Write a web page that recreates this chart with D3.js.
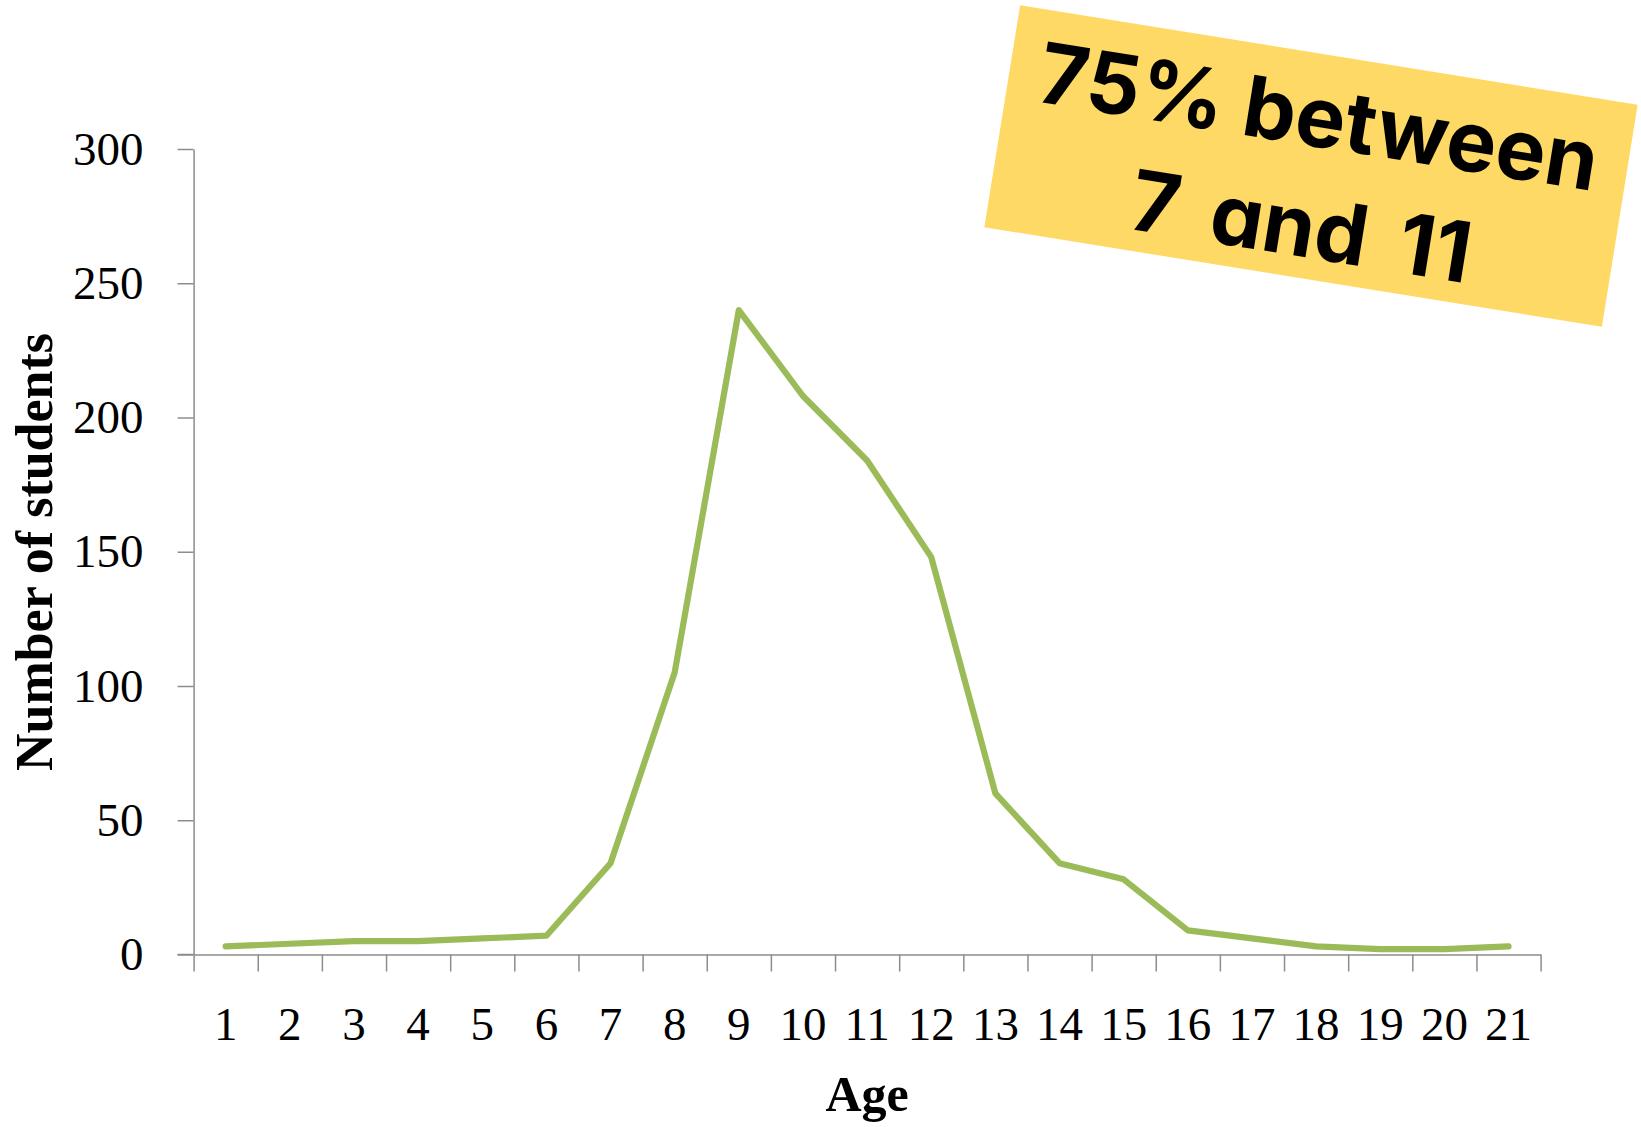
<!DOCTYPE html>
<html>
<head>
<meta charset="utf-8">
<script src="https://cdn.jsdelivr.net/npm/d3@7"></script>
<style>
  html, body { margin: 0; padding: 0; background: #ffffff; }
  svg { display: block; }
</style>
</head>
<body>
<svg id="chart" width="1641" height="1127"></svg>
<script>
// Age distribution of students
const ages = ["1","2","3","4","5","6","7","8","9","10","11","12","13","14","15","16","17","18","19","20","21"];
const students = [3, 4, 5, 5, 6, 7, 34, 105, 240, 208, 184, 148, 60, 34, 28, 9, 6, 3, 2, 2, 3];
const yTicks = [0, 50, 100, 150, 200, 250, 300];
const calloutLines = ["75% between", "7 and 11"];

const svg = d3.select("#chart");
const plot = { left: 193.6, right: 1540.6, top: 149, bottom: 954.5 };
const axisColor = "#8c8c8c";
const serif = "'Liberation Serif', 'Times New Roman', serif";

const x = d3.scaleBand().domain(ages).range([plot.left, plot.right]).padding(0);
const xEdges = d3.scaleLinear().domain([0, ages.length]).range([plot.left, plot.right]);
const y = d3.scaleLinear().domain([0, 300]).range([plot.bottom, plot.top]);

// Y axis
const yAxis = svg.append("g")
  .attr("transform", `translate(${plot.left},0)`)
  .call(d3.axisLeft(y).tickValues(yTicks).tickSize(16).tickPadding(34).tickSizeOuter(0));
yAxis.select(".domain").attr("stroke", axisColor).attr("stroke-width", 1.5);
yAxis.selectAll(".tick line").attr("stroke", axisColor).attr("stroke-width", 1.5);
yAxis.selectAll(".tick text")
  .attr("font-family", serif).attr("font-size", 47).attr("fill", "#000");

// X axis: tick marks at category boundaries
const xTickAxis = svg.append("g")
  .attr("transform", `translate(0,${plot.bottom})`)
  .call(d3.axisBottom(xEdges).tickValues(d3.range(0, ages.length + 1)).tickSize(17).tickSizeOuter(0).tickFormat(""));
xTickAxis.select(".domain").attr("stroke", axisColor).attr("stroke-width", 1.5);
xTickAxis.selectAll(".tick line").attr("stroke", axisColor).attr("stroke-width", 1.5);

// X axis: category labels centred in each band
const xLabelAxis = svg.append("g")
  .attr("transform", `translate(0,${plot.bottom})`)
  .call(d3.axisBottom(x).tickSize(0).tickPadding(52));
xLabelAxis.select(".domain").remove();
xLabelAxis.selectAll(".tick text")
  .attr("font-family", serif).attr("font-size", 47).attr("fill", "#000");

// extend the horizontal baseline to meet the y tick
svg.append("line")
  .attr("x1", plot.left - 16).attr("x2", plot.left)
  .attr("y1", y(0)).attr("y2", y(0))
  .attr("stroke", axisColor).attr("stroke-width", 1.5);

// Data line
const line = d3.line()
  .x((d, i) => x(ages[i]) + x.bandwidth() / 2)
  .y(d => y(d));
svg.append("path")
  .datum(students)
  .attr("d", line)
  .attr("fill", "none")
  .attr("stroke", "#9bbb59")
  .attr("stroke-width", 6.2)
  .attr("stroke-linejoin", "round")
  .attr("stroke-linecap", "round");

// Axis titles
svg.append("text")
  .attr("transform", `translate(52,552) rotate(-90)`)
  .attr("text-anchor", "middle")
  .attr("font-family", serif).attr("font-weight", "bold").attr("font-size", 52)
  .attr("fill", "#000")
  .text("Number of students");

svg.append("text")
  .attr("x", (plot.left + plot.right) / 2)
  .attr("y", 1111)
  .attr("text-anchor", "middle")
  .attr("font-family", serif).attr("font-weight", "bold").attr("font-size", 50)
  .attr("fill", "#000")
  .text("Age");

// Tilted callout
const callout = svg.append("g")
  .attr("transform", "translate(1311,166) rotate(9.15)");
callout.append("rect")
  .attr("x", -312.75).attr("y", -112.4)
  .attr("width", 625.5).attr("height", 224.8)
  .attr("fill", "#ffd966");
callout.selectAll("text.callout")
  .data(calloutLines)
  .join("text")
  .attr("class", "callout")
  .attr("x", 0)
  .attr("y", (d, i) => -20 + i * 111)
  .attr("text-anchor", "middle")
  .attr("font-family", "Inter, 'Open Sans', sans-serif")
  .attr("font-weight", 700)
  .attr("font-size", 84)
  .attr("word-spacing", (d, i) => i === 1 ? 12 : 0)
  .style("font-feature-settings", "'cv11' 1")
  .attr("fill", "#000")
  .text(d => d);
</script>
</body>
</html>
